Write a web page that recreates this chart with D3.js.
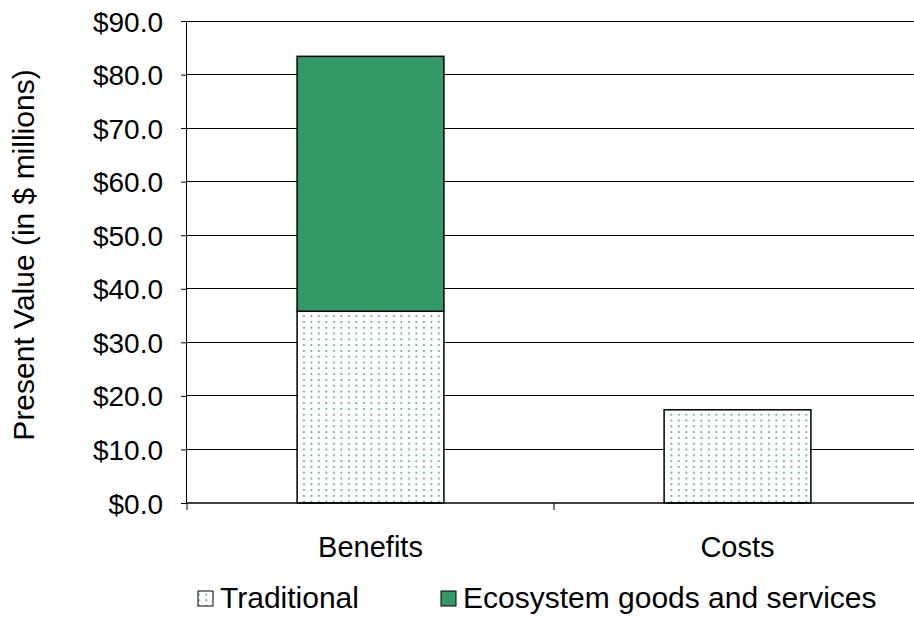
<!DOCTYPE html>
<html>
<head>
<meta charset="utf-8">
<script src="https://cdn.jsdelivr.net/npm/d3@7"></script>
<style>
  body { margin: 0; background: #fff; }
  text { font-family: "Liberation Sans", Arial, sans-serif; fill: #000; }
</style>
</head>
<body>
<svg id="chart" width="914" height="618"></svg>
<script>
const categories = ["Benefits", "Costs"];
const traditional = [35.8, 17.4];
const ecosystem = [47.6, 0];
const seriesNames = ["Traditional", "Ecosystem goods and services"];
const yTicks = [0, 10, 20, 30, 40, 50, 60, 70, 80, 90];

const green = "#339966";
const svg = d3.select("#chart");
const margin = {left: 187, right: -7, top: 21, bottom: 115};
const width = 914, height = 618;

// dotted fill like the old spreadsheet pattern
const defs = svg.append("defs");
const pat = defs.append("pattern")
  .attr("id", "dots")
  .attr("patternUnits", "userSpaceOnUse")
  .attr("width", 7.5).attr("height", 5.8);
pat.append("rect").attr("width", 7.5).attr("height", 5.8).attr("fill", "#fff");
pat.append("rect").attr("x", 3).attr("y", 2).attr("width", 1.8).attr("height", 1.8)
  .attr("fill", green).attr("opacity", 0.8);

const x = d3.scaleBand().domain(categories)
  .range([margin.left, width - margin.right]).paddingInner(0.6).paddingOuter(0.3);
const y = d3.scaleLinear().domain([0, 90]).range([height - margin.bottom, margin.top]);

// gridlines
svg.append("g").selectAll("line").data(yTicks.slice(1)).enter().append("line")
  .attr("x1", margin.left).attr("x2", width - margin.right)
  .attr("y1", d => y(d)).attr("y2", d => y(d))
  .attr("stroke", "#000").attr("stroke-width", 1).attr("shape-rendering", "crispEdges");

const stacked = categories.map((c, i) => ({
  cat: c,
  parts: [
    {y0: 0, y1: traditional[i], fill: "url(#dots)"},
    {y0: traditional[i], y1: traditional[i] + ecosystem[i], fill: green}
  ].filter(p => p.y1 > p.y0)
}));

const groups = svg.append("g").selectAll("g").data(stacked).enter().append("g");
groups.selectAll("rect").data(d => d.parts.map(p => Object.assign({cat: d.cat}, p))).enter()
  .append("rect")
  .attr("x", d => x(d.cat))
  .attr("width", x.bandwidth())
  .attr("y", d => y(d.y1))
  .attr("height", d => y(d.y0) - y(d.y1))
  .attr("fill", d => d.fill)
  .attr("stroke", "#000").attr("stroke-width", 1.5);

// y axis
const yAxis = svg.append("g")
  .attr("transform", `translate(${margin.left},0)`)
  .call(d3.axisLeft(y).tickValues(yTicks).tickSize(6).tickPadding(18)
    .tickFormat(d => "$" + d3.format(".1f")(d)));
yAxis.selectAll("text").style("font-size", "28px").attr("dy", "0.36em");
yAxis.selectAll(".tick line").attr("stroke", "#000");
yAxis.select(".domain").attr("d", `M-0.5,${y(90)}V${y(0)}`).attr("stroke", "#000");

// x axis
const xTickPos = [margin.left, margin.left + (width - margin.right - margin.left) / 2];
const xAxis = svg.append("g").attr("transform", `translate(0,${y(0)})`);
xAxis.append("line").attr("x1", margin.left).attr("x2", width - margin.right)
  .attr("stroke", "#000").attr("stroke-width", 1.5);
xAxis.selectAll(".tk").data(xTickPos).enter().append("line")
  .attr("x1", d => d).attr("x2", d => d).attr("y1", 0).attr("y2", 7)
  .attr("stroke", "#000");
xAxis.selectAll(".lbl").data(categories).enter().append("text")
  .attr("x", d => x(d) + x.bandwidth() / 2).attr("y", 54)
  .attr("text-anchor", "middle").style("font-size", "29px").text(d => d);

// y title
svg.append("text")
  .attr("transform", `translate(34,${(y(0) + y(90)) / 2 - 7}) rotate(-90)`)
  .attr("text-anchor", "middle").style("font-size", "30px")
  .text("Present Value (in $ millions)");

// legend
const legend = svg.append("g");
const legendX = [198, 441];
const legendFill = ["url(#dots)", green];
seriesNames.forEach((name, i) => {
  legend.append("rect").attr("x", legendX[i]).attr("y", 591)
    .attr("width", 15).attr("height", 15)
    .attr("fill", legendFill[i]).attr("stroke", "#000").attr("stroke-width", 1);
  legend.append("text").attr("x", legendX[i] + 22).attr("y", 608)
    .style("font-size", "30px").text(name);
});
</script>
</body>
</html>
